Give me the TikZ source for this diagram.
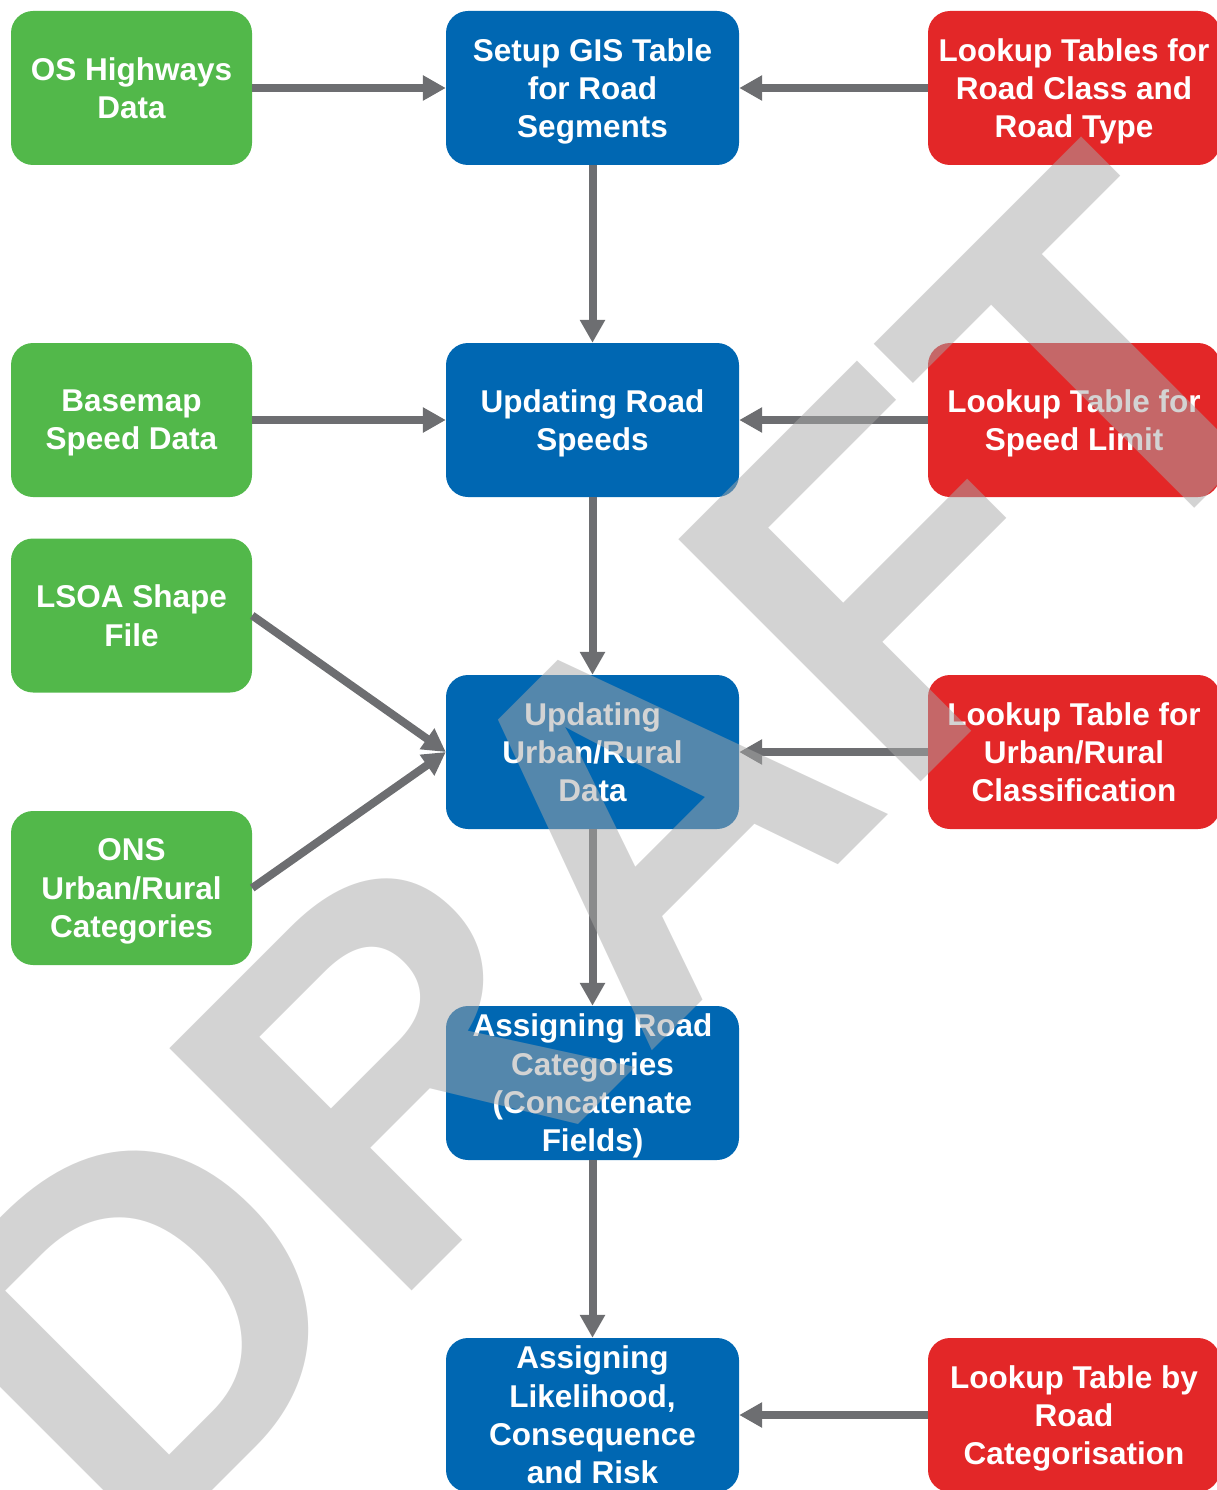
\documentclass[tikz,border=0pt]{standalone}
\usepackage{fontspec}
\setmainfont{Liberation Sans}
\usetikzlibrary{arrows.meta}
\definecolor{boxgreen}{RGB}{82,184,74}
\definecolor{boxblue}{RGB}{0,103,178}
\definecolor{boxred}{RGB}{227,39,40}
\definecolor{arrowgray}{RGB}{109,110,113}
\definecolor{wmgray}{RGB}{168,168,168}
\tikzset{
  box/.style={rounded corners=22pt, minimum width=#1, minimum height=154pt, inner sep=0pt,
    align=center, text=white, font=\fontsize{31.5}{38.3}\selectfont\bfseries,
    text depth=-2pt},
  greenbox/.style={box=241pt, fill=boxgreen},
  bluebox/.style={box=293pt, fill=boxblue},
  redbox/.style={box=292pt, fill=boxred},
  flow/.style={draw=arrowgray, line width=8pt, -{Triangle[length=23pt,width=24pt]}},
}
\begin{document}
\begin{tikzpicture}[x=1pt,y=-1pt]
\useasboundingbox (0,0) rectangle (1217,1490);
\clip (0,0) rectangle (1217,1490);
% green inputs
\node[greenbox] (os)    at (131.5,88)  {OS Highways\\Data};
\node[greenbox] (base)  at (131.5,420) {Basemap\\Speed Data};
\node[greenbox] (lsoa)  at (131.5,615.5) {LSOA Shape\\File};
\node[greenbox] (ons)   at (131.5,888) {ONS\\Urban/Rural\\Categories};
% blue process
\node[bluebox] (setup)  at (592.5,88)   {Setup GIS Table\\for Road\\Segments};
\node[bluebox] (speeds) at (592.5,420)  {Updating Road\\Speeds};
\node[bluebox] (urban)  at (592.5,752)  {Updating\\Urban/Rural\\Data};
\node[bluebox] (assign) at (592.5,1083) {Assigning Road\\Categories\\(Concatenate\\Fields)};
\node[bluebox] (risk)   at (592.5,1415) {Assigning\\Likelihood,\\Consequence\\and Risk};
% red lookups
\node[redbox] (lt1) at (1074,88)   {Lookup Tables for\\Road Class and\\Road Type};
\node[redbox] (lt2) at (1074,420)  {Lookup Table for\\Speed Limit};
\node[redbox] (lt3) at (1074,752)  {Lookup Table for\\Urban/Rural\\Classification};
\node[redbox] (lt4) at (1074,1415) {Lookup Table by\\Road\\Categorisation};
% connectors
\draw[flow] (os) -- (setup);
\draw[flow] (lt1) -- (setup);
\draw[flow] (setup) -- (speeds);
\draw[flow] (base) -- (speeds);
\draw[flow] (lt2) -- (speeds);
\draw[flow] (speeds) -- (urban);
\draw[flow] (lsoa.east) -- (urban.west);
\draw[flow] (ons.east) -- (urban.west);
\draw[flow] (lt3) -- (urban);
\draw[flow] (urban) -- (assign);
\draw[flow] (assign) -- (risk);
\draw[flow] (lt4) -- (risk);
% watermark
\node[anchor=base west, rotate=45, inner sep=0pt, text=wmgray, opacity=0.5,
  font=\fontsize{498}{498}\selectfont\bfseries] (wm) at (134.5,1568.5) {DRAFT};
\end{tikzpicture}
\end{document}
